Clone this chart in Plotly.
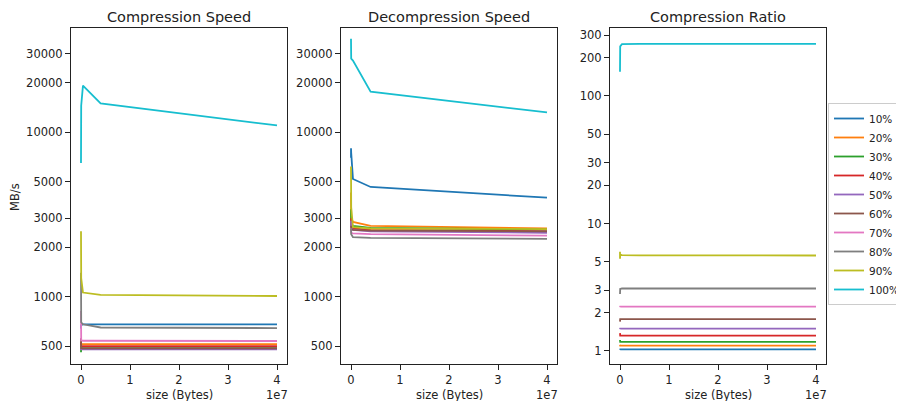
import plotly.graph_objects as go

# the page body adds an 8px margin; compensate so the plot lands at the target pixels
XOFF, YOFF = 8, 8
W, H = 904 - XOFF, 401 - YOFF

sizes = [4e2, 4e3, 4e4, 4e5, 4e6, 4e7]
labels = ["10%", "20%", "30%", "40%", "50%", "60%", "70%", "80%", "90%", "100%"]
colors = ["#1f77b4", "#ff7f0e", "#2ca02c", "#d62728", "#9467bd",
          "#8c564b", "#e377c2", "#7f7f7f", "#bcbd22", "#17becf"]

comp_10 = [640, 660, 670, 680, 680, 680]
comp_20 = [520, 510, 515, 515, 515, 515]
comp_30 = [460, 480, 495, 495, 495, 495]
comp_40 = [530, 500, 500, 500, 500, 500]
comp_50 = [480, 475, 478, 478, 478, 478]
comp_60 = [560, 490, 487, 485, 485, 485]
comp_70 = [820, 600, 545, 540, 540, 538]
comp_80 = [1400, 900, 700, 680, 650, 645]
comp_90 = [2500, 1800, 1300, 1060, 1025, 1010]
comp_100 = [6500, 12000, 14500, 19200, 15000, 11000]

dec_10 = [7000, 8000, 7500, 5200, 4650, 4000]
dec_20 = [4300, 3200, 3000, 2850, 2700, 2600]
dec_30 = [3400, 3000, 2750, 2700, 2620, 2560]
dec_40 = [3000, 2800, 2700, 2600, 2550, 2500]
dec_50 = [2900, 2700, 2650, 2550, 2500, 2450]
dec_60 = [2700, 2650, 2600, 2550, 2520, 2500]
dec_70 = [2600, 2500, 2450, 2430, 2400, 2350]
dec_80 = [2600, 2500, 2400, 2300, 2280, 2250]
dec_90 = [6200, 5000, 3500, 2650, 2600, 2580]
dec_100 = [37000, 30000, 28000, 27300, 17650, 13200]

ratio_10 = [1.02, 1.03, 1.03, 1.03, 1.03, 1.03]
ratio_20 = [1.12, 1.11, 1.10, 1.10, 1.10, 1.10]
ratio_30 = [1.22, 1.19, 1.18, 1.18, 1.18, 1.18]
ratio_40 = [1.38, 1.34, 1.32, 1.32, 1.32, 1.32]
ratio_50 = [1.48, 1.50, 1.50, 1.50, 1.50, 1.50]
ratio_60 = [1.70, 1.76, 1.78, 1.78, 1.78, 1.78]
ratio_70 = [2.20, 2.23, 2.23, 2.23, 2.23, 2.23]
ratio_80 = [2.80, 3.00, 3.07, 3.09, 3.09, 3.09]
ratio_90 = [6.0, 5.3, 5.7, 5.65, 5.62, 5.61]
ratio_100 = [155, 220, 245, 255, 256, 256]

comp = [comp_10, comp_20, comp_30, comp_40, comp_50, comp_60, comp_70, comp_80, comp_90, comp_100]
dec = [dec_10, dec_20, dec_30, dec_40, dec_50, dec_60, dec_70, dec_80, dec_90, dec_100]
ratio = [ratio_10, ratio_20, ratio_30, ratio_40, ratio_50, ratio_60, ratio_70, ratio_80, ratio_90, ratio_100]

titles = ["Compression Speed", "Decompression Speed", "Compression Ratio"]
speed_ticks = [500, 1000, 2000, 3000, 5000, 10000, 20000, 30000]
ratio_ticks = [1, 2, 3, 5, 10, 20, 30, 50, 100, 200, 300]
xticks = [0, 1e7, 2e7, 3e7, 4e7]
xticktext = ["0", "1", "2", "3", "4"]

FONT = "DejaVu Sans"


def px_x(t):
    return (t - XOFF) / W


def px_y(t):
    return 1 - (t - YOFF) / H


fig = go.Figure()

panels_px = [(71, 287), (341, 557), (610, 826)]
top_px, bot_px = 28, 364
ydom = [px_y(bot_px), px_y(top_px)]

datasets = [comp, dec, ratio]
for p, data in enumerate(datasets):
    ax = "" if p == 0 else str(p + 1)
    for i, (lab, col) in enumerate(zip(labels, colors)):
        fig.add_trace(go.Scatter(
            x=sizes, y=data[i], mode="lines", name=lab,
            line=dict(color=col, width=1.8),
            xaxis="x" + ax, yaxis="y" + ax,
            showlegend=(p == 2), legendgroup=lab))

common_axis = dict(showline=True, mirror=True, linecolor="#222222", linewidth=1,
                   ticks="outside", ticklen=5, tickcolor="#222222", showgrid=False,
                   zeroline=False, automargin=False,
                   tickfont=dict(family=FONT, size=11.5, color="#222222"))

layout = dict(width=W, height=H, margin=dict(l=0, r=0, t=0, b=0, autoexpand=False),
              paper_bgcolor="white", plot_bgcolor="white", template="none",
              font=dict(family=FONT, color="#222222"),
              legend=dict(x=px_x(828), y=px_y(103), xanchor="left", yanchor="top",
                          bordercolor="#cccccc", borderwidth=1, bgcolor="white",
                          font=dict(family=FONT, size=10.5, color="#222222"),
                          tracegroupgap=0, itemwidth=30))

yranges = [[2.591, 4.634], [2.591, 4.634], [-0.102, 2.533]]
annotations = []
for p, (x0, x1) in enumerate(panels_px):
    ax = "" if p == 0 else str(p + 1)
    layout["xaxis" + ax] = dict(common_axis, domain=[px_x(x0), px_x(x1)], anchor="y" + ax,
                                range=[-0.204e7, 4.204e7], tickvals=xticks, ticktext=xticktext)
    yt = ratio_ticks if p == 2 else speed_ticks
    layout["yaxis" + ax] = dict(common_axis, domain=ydom, anchor="x" + ax, type="log",
                                range=yranges[p], tickvals=yt, ticktext=[str(v) for v in yt])
    xc = px_x((x0 + x1) / 2)
    annotations.append(dict(text=titles[p], x=xc, y=px_y(17), xref="paper", yref="paper",
                            showarrow=False, xanchor="center", yanchor="middle",
                            font=dict(family=FONT, size=14.5, color="#222222")))
    annotations.append(dict(text="size (Bytes)", x=xc, y=px_y(395), xref="paper", yref="paper",
                            showarrow=False, xanchor="center", yanchor="middle",
                            font=dict(family=FONT, size=11.5, color="#222222")))
    annotations.append(dict(text="1e7", x=px_x(x1 + 3), y=px_y(395), xref="paper", yref="paper",
                            showarrow=False, xanchor="right", yanchor="middle",
                            font=dict(family=FONT, size=11.5, color="#222222")))

annotations.append(dict(text="MB/s", x=px_x(15), y=px_y(197), xref="paper", yref="paper",
                        showarrow=False, textangle=-90, xanchor="center", yanchor="middle",
                        font=dict(family=FONT, size=11.5, color="#222222")))
layout["annotations"] = annotations
fig.update_layout(**layout)
fig.write_html("out.html")
